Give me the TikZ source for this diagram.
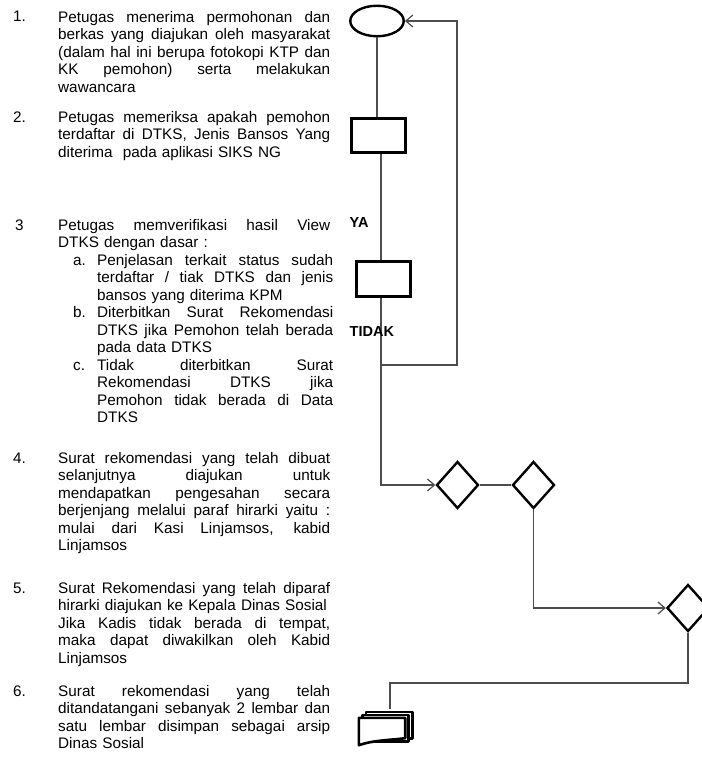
\documentclass[tikz,border=0pt]{standalone}
\usepackage{fontspec}
\setmainfont{Liberation Sans}
\usetikzlibrary{shapes.geometric, arrows.meta, calc}
\setlength{\parindent}{0pt}
\definecolor{flowgray}{HTML}{4d4d4d}
\newcommand{\itemfont}{\fontsize{15.3bp}{17.5bp}\selectfont}
\newcommand{\jl}[2][272bp]{\makebox[#1][s]{\spaceskip=0pt\xspaceskip=0pt #2}\\}

\begin{document}
\begin{tikzpicture}[x=1bp, y=-1bp,
                    flow/.style={draw=flowgray, line width=1.2bp},
                    tip/.style={-{Straight Barb[length=7bp, width=12bp]}},
                    terminal/.style={ellipse, draw, line width=2.4bp, minimum width=53.5bp, minimum height=30.5bp, inner sep=0},
                    process/.style={rectangle, draw, line width=2.6bp, minimum width=54.5bp, minimum height=34.5bp, inner sep=0},
                    decision/.style={diamond, draw, line width=2.4bp, minimum width=42bp, minimum height=47bp, inner sep=0},
                    docline/.style={draw, line width=2.6bp, fill=white, line join=round},
                    stepitem/.style={anchor=north west, text width=272bp, align=left, inner sep=0, font=\itemfont},
                    subitem/.style={stepitem, text width=236bp},
                    stepnum/.style={anchor=base west, inner sep=0, font=\itemfont},
                    answer/.style={anchor=west, inner sep=0, font=\fontsize{14.5bp}{16bp}\selectfont\bfseries}]

    \path[fill=white, use as bounding box] (0,0) rectangle (702,760);

    % Step descriptions
    \node[stepnum] (n1) at (13,22) {1.};
    \node[stepitem] (t1) at (58,11) {\jl{Petugas menerima permohonan dan}\jl{berkas yang diajukan oleh masyarakat}\jl{(dalam hal ini berupa fotokopi KTP dan}\jl{KK pemohon) serta melakukan}wawancara};

    \node[stepnum] (n2) at (13,122) {2.};
    \node[stepitem] (t2) at (58,111) {\jl{Petugas memeriksa apakah pemohon}\jl{terdaftar di DTKS, Jenis Bansos Yang}diterima\ \ pada aplikasi SIKS NG};

    \node[stepnum] (n3) at (15,230) {3};
    \node[stepitem] (t3) at (58,219) {\jl{Petugas memverifikasi hasil View}DTKS dengan dasar :};
    \node[stepnum] (n3a) at (73,265) {a.};
    \node[subitem] (t3a) at (97,254) {\jl[236bp]{Penjelasan terkait status sudah}\jl[236bp]{terdaftar / tiak DTKS dan jenis}bansos yang diterima KPM};
    \node[stepnum] (n3b) at (73,317.5) {b.};
    \node[subitem] (t3b) at (97,306.5) {\jl[236bp]{Diterbitkan Surat Rekomendasi}\jl[236bp]{DTKS jika Pemohon telah berada}pada data DTKS};
    \node[stepnum] (n3c) at (73,370) {c.};
    \node[subitem] (t3c) at (97,359) {\jl[236bp]{Tidak diterbitkan Surat}\jl[236bp]{Rekomendasi DTKS jika}\jl[236bp]{Pemohon tidak berada di Data}DTKS};

    \node[stepnum] (n4) at (13,463) {4.};
    \node[stepitem] (t4) at (58,452) {\jl{Surat rekomendasi yang telah dibuat}\jl{selanjutnya diajukan untuk}\jl{mendapatkan pengesahan secara}\jl{berjenjang melalui paraf hirarki yaitu :}\jl{mulai dari Kasi Linjamsos, kabid}Linjamsos};

    \node[stepnum] (n5) at (13,593) {5.};
    \node[stepitem] (t5) at (58,582) {\jl{Surat Rekomendasi yang telah diparaf}hirarki diajukan ke Kepala Dinas Sosial\\\jl{Jika Kadis tidak berada di tempat,}\jl{maka dapat diwakilkan oleh Kabid}Linjamsos};

    \node[stepnum] (n6) at (13,696) {6.};
    \node[stepitem] (t6) at (58,685) {\jl{Surat rekomendasi yang telah}\jl{ditandatangani sebanyak 2 lembar dan}\jl{satu lembar disimpan sebagai arsip}Dinas Sosial};

    % Flowchart nodes
    \node[terminal] (start) at (377,21) {};
    \node[process] (check) at (378.5,135.5) {};
    \node[process] (verify) at (383.5,279) {};
    \node[decision] (kasi) at (457.5,485) {};
    \node[decision] (kabid) at (533.5,485) {};
    \node[decision] (kadis) at (688,608) {};
    \node[minimum width=46bp, minimum height=26bp, inner sep=0] (archive) at (382,731) {};

    % Archive documents
    \path[docline] ($(archive.south west)+(7,-6)$) rectangle ($(archive.north east)+(7,-6)$);
    \path[docline] ($(archive.south west)+(3.5,-3)$) rectangle ($(archive.north east)+(3.5,-3)$);
    \path[docline] (archive.north west) -- (archive.north east) -- ($(archive.south east)+(0,-6)$)
        .. controls ($(archive.south east)+(-16,-4)$) and ($(archive.south west)+(14,-4)$) .. ($(archive.south west)+(0,1)$) -- cycle;

    % Connecting lines
    \coordinate (split) at (381,365);
    \coordinate (loop) at (457,365);
    \coordinate (turn) at (688,683);

    \draw[flow] (start.south) -- (start.south |- check.north);
    \draw[flow] (check.south -| split) -- (verify.north -| split);
    \draw[flow, tip] (verify.south -| split) -- (split) |- (kasi.west);
    \draw[flow, tip] (split) -- (loop) |- (start.east);
    \draw[flow] (kasi.east) -- (kabid.west);
    \draw[flow, tip] (kabid.south) |- (kadis.west);
    \draw[flow] (kadis.south) -- (turn) -| ($(archive.north)+(8,-9)$);

    % Answers
    \node[answer] (ya) at (349.5,223) {YA};
    \node[answer] (tidak) at (349.5,332) {TIDAK};

\end{tikzpicture}
\end{document}
